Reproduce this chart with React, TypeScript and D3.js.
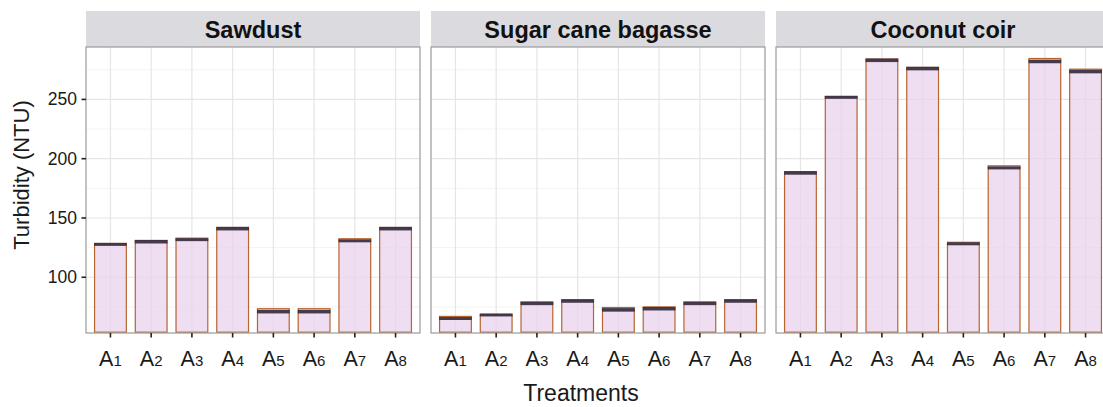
import React from "react";
import * as d3 from "d3";

const panels = ["Sawdust", "Sugar cane bagasse", "Coconut coir"];
const treatments = ["1", "2", "3", "4", "5", "6", "7", "8"];

// bar heights (mean turbidity, NTU)
const sawdustMean = [128.5, 131, 133, 142, 73.5, 73.5, 132.5, 142];
const bagasseMean = [67, 68.5, 79, 81, 74.5, 75, 79, 81];
const coirMean = [189, 252.5, 284, 277, 129.5, 194, 284.5, 275.5];

// error band lower / upper limits
const sawdustLo = [126.5, 128.5, 130.5, 139.5, 69.5, 69.5, 129.5, 139.5];
const sawdustHi = [129, 131.5, 133, 142.5, 72.5, 72.5, 132, 142.5];
const bagasseLo = [64, 67, 76.5, 78.5, 71, 72, 76.5, 78.5];
const bagasseHi = [66.5, 69.5, 79.5, 81.5, 74, 75, 79.5, 81.5];
const coirLo = [186.5, 250.5, 281.5, 274.5, 127, 191, 280.5, 272];
const coirHi = [189.5, 253, 284.5, 277.5, 129.5, 193.5, 283.5, 275];

const yMajor = [100, 150, 200, 250];
const yMinor = [75, 125, 175, 225, 275];

const means = [sawdustMean, bagasseMean, coirMean];
const los = [sawdustLo, bagasseLo, coirLo];
const his = [sawdustHi, bagasseHi, coirHi];

export default function App() {
  const W = 1103;
  const H = 407;
  const top = 47;
  const bottom = 333;
  const stripTop = 11;
  const panelW = 334;
  const gap = 11;
  const left0 = 86;
  const font = "Liberation Sans, Arial, Helvetica, sans-serif";

  const y = d3.scaleLinear().domain([53, 294.2]).range([bottom, top]);

  return (
    <svg width={W} height={H} style={{ display: "block", position: "absolute", left: 0, top: 0 }} fontFamily={font}>
      <rect x={0} y={0} width={W} height={H} fill="#ffffff" />
      <defs>
        {panels.map((p, i) => {
          const x0 = left0 + i * (panelW + gap);
          return (
            <clipPath id={`clip${i}`} key={p}>
              <rect x={x0} y={top} width={panelW} height={bottom - top} />
            </clipPath>
          );
        })}
      </defs>
      {panels.map((p, i) => {
        const x0 = left0 + i * (panelW + gap);
        const x1 = x0 + panelW;
        const x = d3.scalePoint<string>().domain(treatments).range([x0, x1]).padding(0.6);
        const step = x.step();
        const bw = step * 0.78;
        return (
          <g key={p}>
            {/* strip */}
            <rect x={x0} y={stripTop} width={panelW} height={top - stripTop} fill="#dbdbdf" />
            <text x={(x0 + x1) / 2} y={(stripTop + top) / 2 + 8.5} textAnchor="middle" fontSize={23.5} fontWeight="bold" fill="#111">
              {p}
            </text>
            {/* grid */}
            {yMinor.map((v) => (
              <line key={"mi" + v} x1={x0} x2={x1} y1={y(v)} y2={y(v)} stroke="#f3f3f3" strokeWidth={1} />
            ))}
            {yMajor.map((v) => (
              <line key={"ma" + v} x1={x0} x2={x1} y1={y(v)} y2={y(v)} stroke="#e6e6e6" strokeWidth={1.2} />
            ))}
            {treatments.map((t) => (
              <line key={"vx" + t} x1={x(t)} x2={x(t)} y1={top} y2={bottom} stroke="#e6e6e6" strokeWidth={1.2} />
            ))}
            {/* bars */}
            <g clipPath={`url(#clip${i})`}>
              {treatments.map((t, j) => {
                const cx = x(t)!;
                const yt = y(means[i][j]);
                return (
                  <rect
                    key={"b" + t}
                    x={cx - bw / 2}
                    y={yt}
                    width={bw}
                    height={bottom - 0.8 - yt}
                    fill="#ead2ec"
                    fillOpacity={0.75}
                    stroke="#b8652f"
                    strokeWidth={1.2}
                  />
                );
              })}
              {treatments.map((t, j) => {
                const cx = x(t)!;
                const yh = y(his[i][j]);
                const yl = y(los[i][j]);
                const h = Math.max(3, yl - yh);
                return (
                  <rect key={"e" + t} x={cx - bw / 2 - 0.5} y={yh} width={bw + 1} height={h} fill="#3b3143" fillOpacity={0.95} />
                );
              })}
            </g>
            {/* border */}
            <rect x={x0} y={top} width={panelW} height={bottom - top} fill="none" stroke="#9a9a9a" strokeWidth={1.2} />
            {/* x ticks & labels */}
            {treatments.map((t) => (
              <g key={"xt" + t}>
                <line x1={x(t)} x2={x(t)} y1={bottom} y2={bottom + 4.5} stroke="#222" strokeWidth={1.6} />
                <text x={x(t)} y={366} textAnchor="middle" fontSize={21.5} fill="#1a1a1a">
                  A<tspan fontSize={15}>{t}</tspan>
                </text>
              </g>
            ))}
          </g>
        );
      })}
      {/* y axis */}
      {yMajor.map((v) => (
        <g key={"yt" + v}>
          <line x1={left0 - 4.5} x2={left0} y1={y(v)} y2={y(v)} stroke="#222" strokeWidth={1.6} />
          <text x={left0 - 9} y={y(v) + 6} textAnchor="end" fontSize={17.5} fill="#1a1a1a">
            {v}
          </text>
        </g>
      ))}
      <text transform={`translate(29,${175}) rotate(-90)`} textAnchor="middle" fontSize={22} fill="#1a1a1a">
        Turbidity (NTU)
      </text>
      <text x={581} y={401} textAnchor="middle" fontSize={23} fill="#1a1a1a">
        Treatments
      </text>
    </svg>
  );
}
